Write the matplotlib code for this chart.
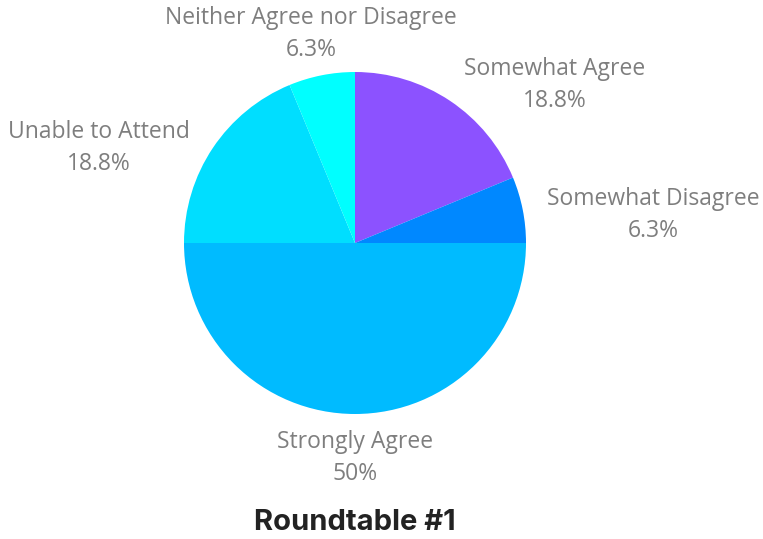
import matplotlib.pyplot as plt

categories = ["Somewhat Agree", "Somewhat Disagree", "Strongly Agree",
              "Unable to Attend", "Neither Agree nor Disagree"]
counts = [3, 1, 8, 3, 1]
pct_labels = ["18.8%", "6.3%", "50%", "18.8%", "6.3%"]
colors = ["#8c52ff", "#0088ff", "#00bbff", "#00deff", "#00ffff"]
title = "Roundtable #1"

W, H = 763, 539
fig = plt.figure(figsize=(W / 100, H / 100), dpi=100)
ax = fig.add_axes([0, 0, 1, 1])

cx, cy, r = 355, H - 243, 171
ax.pie(counts, colors=colors, startangle=90, counterclock=False,
       center=(cx, cy), radius=r, frame=True,
       wedgeprops=dict(linewidth=0))
ax.set_xlim(0, W)
ax.set_ylim(0, H)
ax.set_aspect("equal")
ax.axis("off")

# label anchor (centre of the two-line block), in pixel space from top-left
label_pos = [(555, 85), (653, 215), (355, 458), (99, 148), (311, 34)]
for name, pct, (px, py) in zip(categories, pct_labels, label_pos):
    ax.text(px, H - py, f"{name}\n{pct}", ha="center", va="center",
            fontsize=16.5, color="#7e7e7e", family="Open Sans",
            linespacing=1.45)

fig.text(355 / W, 1 - 523 / H, title, ha="center", va="center",
         fontsize=21, fontweight="bold", color="#222222", family="Inter")

fig.savefig("out.png", dpi=100)
